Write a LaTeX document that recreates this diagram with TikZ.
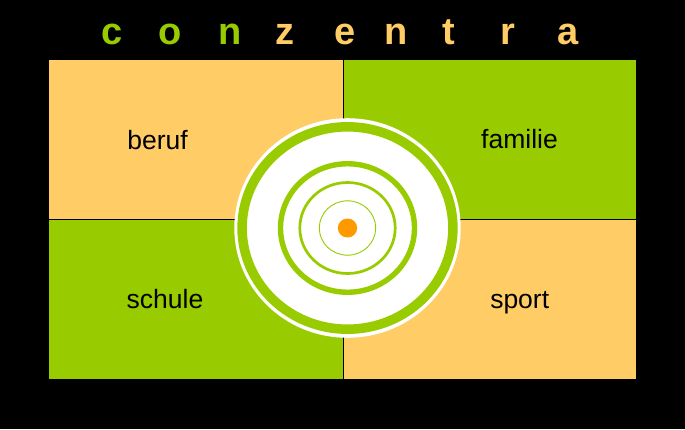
\documentclass[tikz,border=0pt]{standalone}
\usepackage{fontspec}
\setmainfont{Liberation Sans}
\definecolor{lgreen}{HTML}{99CC00}
\definecolor{lorange}{HTML}{FFCC66}
\definecolor{dotorange}{HTML}{FF9900}
\tikzset{
  quad/.style={draw=none, inner sep=0pt},
  lbl/.style={anchor=base, inner sep=0pt, font=\fontsize{26.5}{30}\selectfont, text=black},
  ttl/.style={anchor=base, inner sep=0pt, font=\fontsize{38}{40}\selectfont\bfseries},
  divider/.style={draw=black, line width=1.2pt},
  ring/.style={draw=lgreen}
}
\begin{document}
\begin{tikzpicture}[x=1pt,y=-1pt]
\fill[black] (0,0) rectangle (685,429);
\useasboundingbox (0,0) rectangle (685,429);
% quadrants
\fill[lorange] (49,60) rectangle (343.3,219.3);
\fill[lgreen] (343.3,60) rectangle (636,219.3);
\fill[lgreen] (49,219.3) rectangle (343.3,379);
\fill[lorange] (343.3,219.3) rectangle (636,379);
\coordinate (vt) at (343.3,60);
\coordinate (vb) at (343.3,379);
\coordinate (hl) at (49,219.3);
\coordinate (hr) at (636,219.3);
\draw[divider] (vt) -- (vb);
\draw[divider] (hl) -- (hr);
% labels
\node[lbl] (beruf) at (157.5,149) {beruf};
\node[lbl] (familie) at (519.5,148.3) {familie};
\node[lbl] (schule) at (165,308.3) {schule};
\node[lbl] (sport) at (519.7,308.3) {sport};
% target
\coordinate (c) at (347.5,228);
\fill[white] (c) ellipse [x radius=113.2, y radius=109.8];
\draw[ring, line width=9.5pt] (c) ellipse [x radius=105.4, y radius=101.2];
\draw[ring, line width=5.4pt] (c) ellipse [x radius=67, y radius=64.25];
\draw[ring, line width=2.7pt] (c) ellipse [x radius=47.7, y radius=45.5];
\draw[ring, line width=0.9pt] (c) ellipse [x radius=28.2, y radius=27.2];
\fill[dotorange] (c) ellipse [x radius=9.7, y radius=9.5];
% title
\node[ttl, text=lgreen] (t1) at (112,44) {c};
\node[ttl, text=lgreen] (t2) at (170,44) {o};
\node[ttl, text=lgreen] (t3) at (230,44) {n};
\node[ttl, text=lorange] (t4) at (284.5,44) {z};
\node[ttl, text=lorange] (t5) at (345,44) {e};
\node[ttl, text=lorange] (t6) at (396,44) {n};
\node[ttl, text=lorange] (t7) at (449,44) {t};
\node[ttl, text=lorange] (t8) at (507.5,44) {r};
\node[ttl, text=lorange] (t9) at (568.5,44) {a};
\end{tikzpicture}
\end{document}
